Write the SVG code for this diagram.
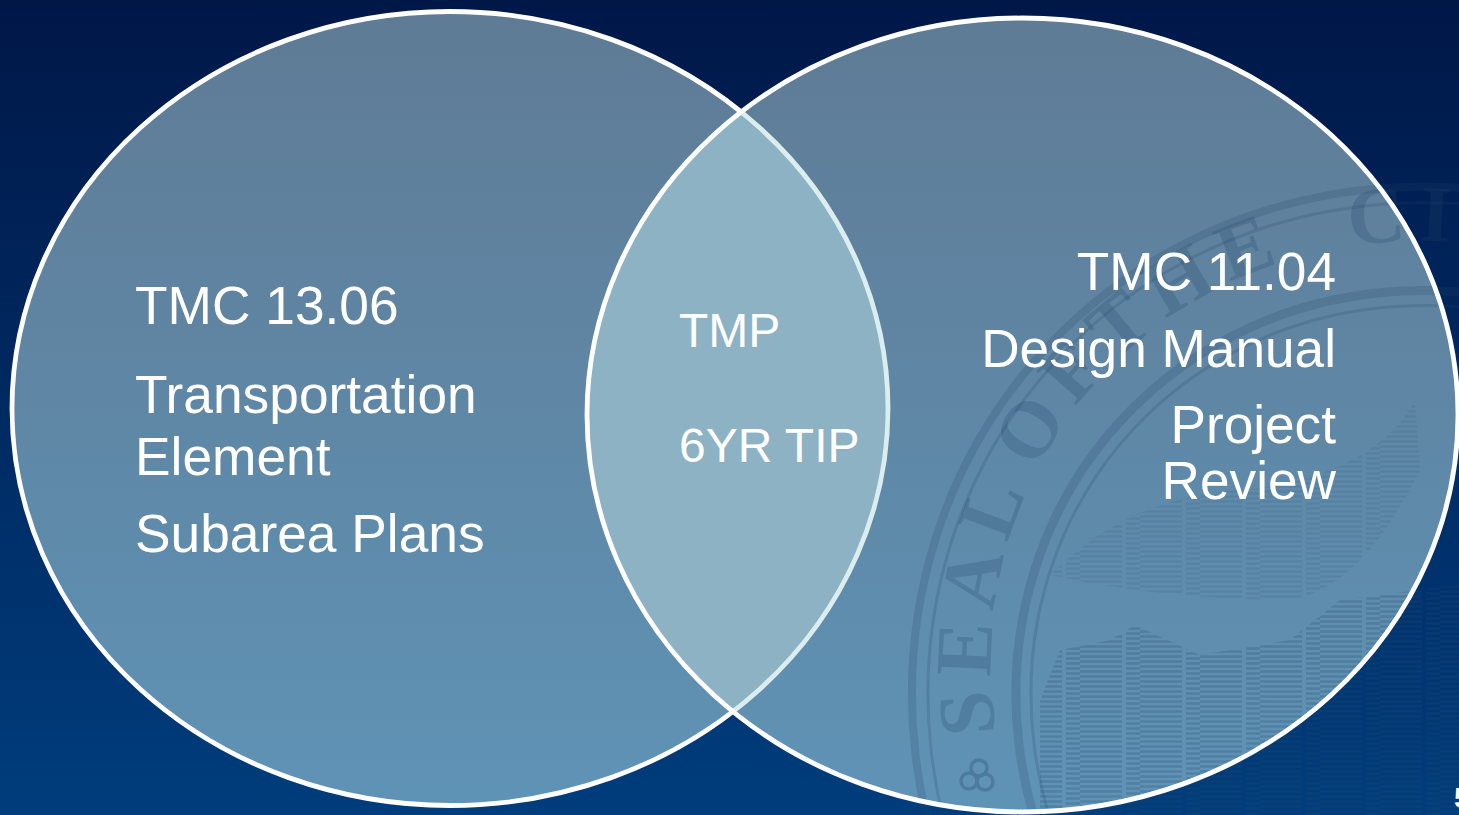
<svg xmlns="http://www.w3.org/2000/svg" width="1459" height="815" viewBox="0 0 1459 815">
<style>
.t{font-family:"Liberation Sans",Arial,sans-serif;font-size:53.3px;fill:#fff}
.r{font-size:53.2px;text-anchor:end}
.m{font-size:48px}
.ring{fill:none;stroke:#24476a;opacity:.2}
.sealtext{font-family:"Liberation Serif","Times New Roman",serif;font-weight:bold;font-size:80px;fill:#24476a;opacity:.24;letter-spacing:12px}
.edge{fill:none;stroke-width:4.8}
</style>
<defs>
<linearGradient id="bg" x1="0" y1="0" x2="0" y2="1"><stop offset="0" stop-color="#001748"/><stop offset="1" stop-color="#003d7c"/></linearGradient>
<linearGradient id="fillL" gradientUnits="userSpaceOnUse" x1="0" y1="11" x2="0" y2="806"><stop offset="0" stop-color="#5f7b95"/><stop offset="1" stop-color="#5f93b6"/></linearGradient>
<pattern id="streak" width="60" height="5" patternUnits="userSpaceOnUse"><path d="M0 1.5H42M46 3.5H60" stroke="#24476a" stroke-width="2.4"/></pattern>
<clipPath id="clipL"><ellipse cx="450" cy="408.5" rx="438" ry="397"/></clipPath>
<clipPath id="clipR"><ellipse cx="1022.5" cy="415" rx="435.5" ry="397"/></clipPath>
<path id="sealArc" d="M998 743A465 438 40 0 1 1680 320"/>
</defs>
<rect id="background" width="1459" height="815" fill="url(#bg)"/>
<g id="left-circle">
<ellipse cx="450" cy="408.5" rx="438" ry="397" fill="url(#fillL)"/>
<ellipse class="edge" cx="450" cy="408.5" rx="438" ry="397" stroke="#fff"/>
</g>
<g id="right-circle">
<ellipse cx="1022.5" cy="415" rx="435.5" ry="397" fill="url(#fillL)"/>
</g>
<g id="seal">
<ellipse class="ring" cx="1450" cy="720" rx="549" ry="522" transform="rotate(40 1450 720)" stroke-width="8"/>
<ellipse class="ring" cx="1450" cy="720" rx="533" ry="506" transform="rotate(40 1450 720)" stroke-width="3"/>
<ellipse class="ring" cx="1450" cy="720" rx="445" ry="418" transform="rotate(40 1450 720)" stroke-width="9"/>
<ellipse class="ring" cx="1450" cy="720" rx="430" ry="403" transform="rotate(40 1450 720)" stroke-width="3"/>
<text class="sealtext"><textPath href="#sealArc" startOffset="10">SEAL</textPath></text>
<text class="sealtext"><textPath href="#sealArc" startOffset="280">OF</textPath></text>
<text class="sealtext"><textPath href="#sealArc" startOffset="415">THE</textPath></text>
<text class="sealtext"><textPath href="#sealArc" startOffset="680">CITY</textPath></text>
<path d="M1050 575C1120 505 1190 495 1240 490C1320 485 1390 450 1415 400L1420 470C1390 530 1350 590 1290 600C1200 600 1120 590 1050 575Z" fill="url(#streak)" opacity=".13"/>
<path d="M1040 700L1060 650L1110 640L1135 625L1200 655L1290 640L1340 600L1459 585V815H1040Z" fill="url(#streak)" opacity=".24"/>
<g fill="none" stroke="#24476a" stroke-width="3.5" opacity=".3"><circle cx="979" cy="768" r="8"/><circle cx="969" cy="781" r="8"/><circle cx="985" cy="782" r="8"/></g>
</g>
<g id="overlap">
<g clip-path="url(#clipL)"><ellipse cx="1022.5" cy="415" rx="435.5" ry="397" fill="#8db2c4"/></g>
<g clip-path="url(#clipR)"><ellipse class="edge" cx="450" cy="408.5" rx="438" ry="397" stroke="#dcedef"/></g>
<ellipse class="edge" cx="1022.5" cy="415" rx="435.5" ry="397" stroke="#fff"/>
</g>
<g id="labels-left">
<text class="t" x="135" y="324">TMC 13.06</text>
<text class="t" x="135" y="413">Transportation</text>
<text class="t" x="135" y="475">Element</text>
<text class="t" x="135" y="552">Subarea Plans</text>
</g>
<g id="labels-center">
<text class="t m" x="679" y="347">TMP</text>
<text class="t m" x="679" y="462">6YR TIP</text>
</g>
<g id="labels-right">
<text class="t r" x="1336" y="290">TMC 11.04</text>
<text class="t r" x="1336" y="367">Design Manual</text>
<text class="t r" x="1336" y="443">Project</text>
<text class="t r" x="1336" y="499">Review</text>
</g>
<text id="page-number" x="1454" y="808" font-family="'Liberation Sans',Arial,sans-serif" font-size="30" font-weight="bold" fill="#fff">5</text>
</svg>
